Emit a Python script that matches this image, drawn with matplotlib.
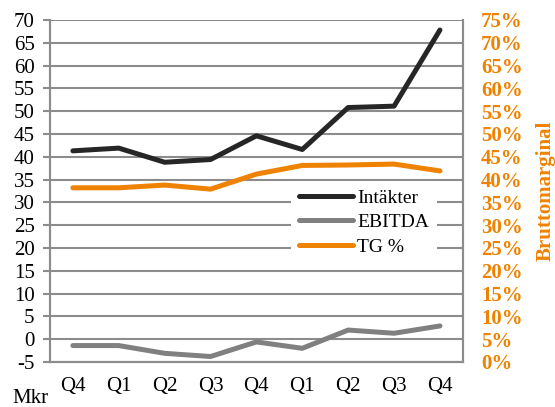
import matplotlib
matplotlib.use('Agg')
import matplotlib.pyplot as plt
from matplotlib.ticker import FuncFormatter

# data
quarters = ['Q4', 'Q1', 'Q2', 'Q3', 'Q4', 'Q1', 'Q2', 'Q3', 'Q4']
intakter = [41.3, 41.9, 38.8, 39.4, 44.6, 41.6, 50.8, 51.1, 67.8]
ebitda = [-1.4, -1.4, -3.1, -3.8, -0.6, -2.0, 2.0, 1.3, 2.9]
tg_pct = [0.382, 0.382, 0.388, 0.379, 0.412, 0.431, 0.432, 0.434, 0.419]

orange = '#EF8200'
grid_col = '#8c8c8c'
fs = 15
plt.rcParams['font.family'] = ['Liberation Serif', 'DejaVu Serif']

fig = plt.figure(figsize=(5.55, 4.07), dpi=100)
ax = fig.add_axes([0.090, 0.1106, 0.744, 0.8403])
ax2 = ax.twinx()

x = list(range(len(quarters)))
l1, = ax.plot(x, intakter, color='#262626', lw=3.6, solid_capstyle='round',
              label='Intäkter')
l2, = ax.plot(x, ebitda, color='#808080', lw=3.6, solid_capstyle='round',
              label='EBITDA')
l3, = ax2.plot(x, tg_pct, color=orange, lw=3.6, solid_capstyle='round',
               label='TG %')

ax.set_xlim(-0.5, len(quarters) - 0.5)
ax.set_ylim(-5, 70)
ax.set_yticks(range(-5, 71, 5))
ax.set_yticklabels([str(v) for v in range(-5, 71, 5)])
ax.yaxis.grid(True, color=grid_col, lw=1.5)
ax.set_axisbelow(True)
ax.set_xticks(x)
ax.set_xticklabels(quarters)
ax.tick_params(axis='x', length=0, pad=11, labelsize=fs)
ax.tick_params(axis='y', length=5, width=1.5, color=grid_col, labelsize=fs,
               pad=6)

ax2.set_ylim(0, 0.75)
ax2.set_yticks([v / 100 for v in range(0, 76, 5)])
ax2.yaxis.set_major_formatter(FuncFormatter(lambda v, p: '%d%%' % round(v * 100)))
ax2.tick_params(axis='y', length=0, labelsize=fs, labelcolor=orange, pad=13)
for lab in ax2.get_yticklabels():
    lab.set_fontweight('bold')

for a in (ax, ax2):
    a.spines['top'].set_visible(False)
    for s in ('left', 'right', 'bottom'):
        a.spines[s].set_color(grid_col)
        a.spines[s].set_linewidth(1.5)

leg = ax2.legend(handles=[l1, l2, l3], loc='upper left',
                 bbox_to_anchor=(0.507, 0.578), bbox_transform=fig.transFigure,
                 frameon=True, fancybox=False, edgecolor='none',
                 facecolor='white', framealpha=1, fontsize=14,
                 handlelength=2.8, handletextpad=0.2, labelspacing=0.35,
                 borderpad=0.4)

fig.text(0.984, 0.531, 'Bruttomarginal', rotation=90, color=orange,
         fontweight='bold', fontsize=fs, ha='center', va='center')
fig.text(0.022, 0.022, 'Mkr', fontsize=fs, ha='left', va='center')

fig.savefig('out.png', dpi=100)
